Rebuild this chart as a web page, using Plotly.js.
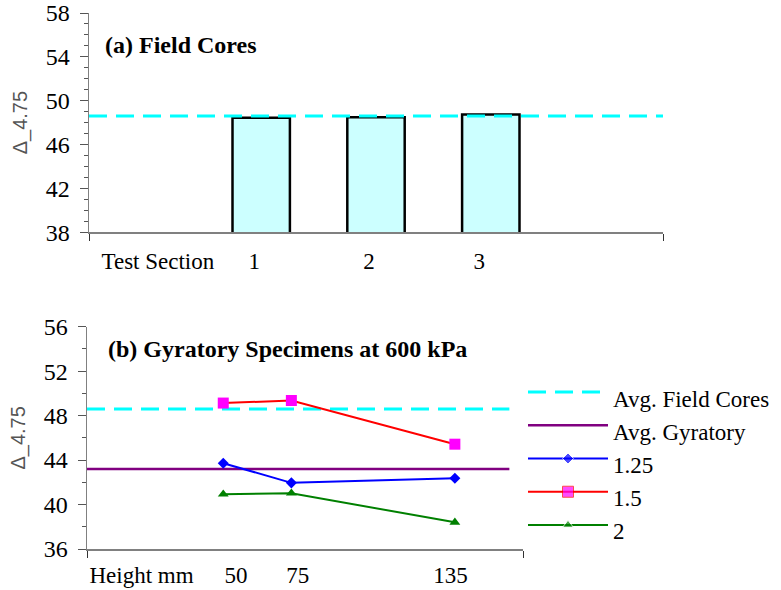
<!DOCTYPE html>
<html><head><meta charset="utf-8">
<script src="https://cdn.plot.ly/plotly-3.0.1.min.js"></script>
<style>html,body{margin:0;padding:0;background:#fff}#chart{width:781px;height:590px}</style>
</head><body><div id="chart"></div>
<script>
// ---- Panel (a): Field cores ----
const sections = [1, 2, 3];
const sectionValues = [48.45, 48.5, 48.75];
const avgFieldCores = 48.6;
const xTickLabelsA = ["Test Section", "1", "2", "3"];

// ---- Panel (b): Gyratory specimens at 600 kPa ----
const heights = [50, 75, 135];
const series125 = [43.72, 41.95, 42.37];
const series15 = [49.13, 49.36, 45.43];
const series2 = [40.93, 41.02, 38.4];
const avgGyratory = 43.2;
const xTickLabelsB = ["Height mm", "50", "75", "135"];
const seriesNames = ["Avg. Field Cores", "Avg. Gyratory", "1.25", "1.5", "2"];

// ---- layout helpers (pixel -> paper) ----
const W = 781, H = 590;
const px = v => v / W;
const py = v => 1 - v / H;

const rangeXA = [-0.5, 4.5];
const rangeXB = [0, 160];
const avgSpanB = [0, 155];

const serif = "Liberation Serif, Times New Roman, serif";
const tf = (s) => ({family: serif, size: s || 23, color: '#000'});
const axisLine = '#808080';

const styles = [
  {mode: 'lines', line: {color: '#00FFFF', width: 3, dash: '18px,9px'}},
  {mode: 'lines', line: {color: '#800080', width: 2.5}},
  {mode: 'lines+markers', line: {color: '#0000FF', width: 2}, marker: {symbol: 'diamond', color: '#0000FF', size: 8.5}},
  {mode: 'lines+markers', line: {color: '#FF0000', width: 2}, marker: {symbol: 'square', color: '#FF00FF', size: 11}},
  {mode: 'lines+markers', line: {color: '#008000', width: 2}, marker: {symbol: 'triangle-up', color: '#008000', size: 9.5}}
];

const traces = [];
// Panel (a)
traces.push({type: 'bar', x: sections, y: sectionValues, width: 0.5, xaxis: 'x', yaxis: 'y',
  marker: {color: '#CCFFFF', line: {color: '#000', width: 2.5}}, name: 'Field Cores', showlegend: false});
traces.push({type: 'scatter', x: rangeXA, y: [avgFieldCores, avgFieldCores], xaxis: 'x', yaxis: 'y',
  name: seriesNames[0], showlegend: false, mode: styles[0].mode, line: styles[0].line});

// Panel (b)
const seriesB = [null, null, series125, series15, series2];
traces.push({type: 'scatter', x: avgSpanB, y: [avgFieldCores, avgFieldCores], xaxis: 'x2', yaxis: 'y2',
  name: seriesNames[0], showlegend: false, mode: styles[0].mode, line: styles[0].line});
traces.push({type: 'scatter', x: avgSpanB, y: [avgGyratory, avgGyratory], xaxis: 'x2', yaxis: 'y2',
  name: seriesNames[1], showlegend: false, mode: styles[1].mode, line: styles[1].line});
for (let i = 2; i < 5; i++) {
  traces.push({type: 'scatter', x: heights, y: seriesB[i], xaxis: 'x2', yaxis: 'y2', name: seriesNames[i],
    showlegend: false, mode: styles[i].mode, line: styles[i].line, marker: styles[i].marker, cliponaxis: false});
}

// Custom legend (hidden axes x3/y3), one row per series name
const annotations = [];
seriesNames.forEach((nm, i) => {
  const t = {type: 'scatter', x: [0, 0.5, 1], y: [i, i, i], xaxis: 'x3', yaxis: 'y3', showlegend: false,
    mode: styles[i].mode, line: styles[i].line, cliponaxis: false, hoverinfo: 'skip'};
  if (styles[i].marker) t.marker = Object.assign({}, styles[i].marker, {size: [0, styles[i].marker.size, 0]});
  traces.push(t);
  annotations.push({xref: 'x3', yref: 'y3', x: 1, y: i, xanchor: 'left', yanchor: 'middle', xshift: 3, yshift: -7,
    showarrow: false, text: nm, font: tf(23)});
});

annotations.push({xref: 'paper', yref: 'paper', x: px(103), y: py(45), xanchor: 'left', yanchor: 'middle',
  showarrow: false, text: '(a) Field Cores', font: {family: serif, size: 24, color: '#000', weight: 'bold'}});
annotations.push({xref: 'paper', yref: 'paper', x: px(106), y: py(349), xanchor: 'left', yanchor: 'middle',
  showarrow: false, text: '(b) Gyratory Specimens at 600 kPa', font: {family: serif, size: 24, color: '#000', weight: 'bold'}});

const yTitle = () => ({text: 'Δ_4.75', font: {family: "Liberation Sans, Arial, sans-serif", size: 20, color: '#555'}, standoff: 12});

const layout = {
  width: W, height: H, margin: {l: 0, r: 0, t: 0, b: 0},
  font: {family: serif, size: 23, color: '#000'},
  paper_bgcolor: '#fff', plot_bgcolor: 'rgba(0,0,0,0)', showlegend: false, hovermode: false,
  xaxis: {domain: [px(89), px(663)], range: rangeXA, anchor: 'y', tickmode: 'array',
    tickvals: [0.1, 0.94, 1.94, 2.9], ticktext: xTickLabelsA, ticks: '', ticklabelstandoff: 8,
    showline: true, linecolor: axisLine, linewidth: 1.5, showgrid: false, zeroline: false, tickfont: tf(23),
    minor: {tickmode: 'array', tickvals: rangeXA, ticks: 'outside', ticklen: 7, tickcolor: '#333', showgrid: false}},
  yaxis: {domain: [py(232.3), py(13)], range: [38, 58], anchor: 'x', tick0: 38, dtick: 4,
    ticks: 'outside', ticklen: 8, tickcolor: '#555', showline: true, linecolor: axisLine, linewidth: 1.5,
    ticklabelstandoff: 5,
    showgrid: false, zeroline: false, tickfont: tf(24), title: yTitle(),
    minor: {dtick: 1, ticks: 'outside', ticklen: 4, tickcolor: '#555', showgrid: false}},
  xaxis2: {domain: [px(87), px(523)], range: rangeXB, anchor: 'y2', tickmode: 'array',
    tickvals: [20, 54.7, 77.3, 133.4], ticktext: xTickLabelsB, ticks: '', ticklabelstandoff: 5,
    showline: true, linecolor: axisLine, linewidth: 1.5, showgrid: false, zeroline: false, tickfont: tf(23),
    minor: {tickmode: 'array', tickvals: rangeXB, ticks: 'outside', ticklen: 7, tickcolor: '#333', showgrid: false}},
  yaxis2: {domain: [py(549), py(326.7)], range: [36, 56], anchor: 'x2', tick0: 36, dtick: 4,
    ticks: 'outside', ticklen: 8, tickcolor: '#555', showline: true, linecolor: axisLine, linewidth: 1.5,
    ticklabelstandoff: 5,
    showgrid: false, zeroline: false, tickfont: tf(24), title: yTitle(),
    minor: {dtick: 2, ticks: 'outside', ticklen: 4, tickcolor: '#555', showgrid: false}},
  xaxis3: {domain: [px(528), px(608)], range: [0, 1], anchor: 'y3', visible: false, fixedrange: true},
  yaxis3: {domain: [py(541.6), py(375.4)], range: [4.5, -0.5], anchor: 'x3', visible: false, fixedrange: true},
  annotations: annotations
};

Plotly.newPlot('chart', traces, layout, {staticPlot: true, displayModeBar: false});
</script>
</body></html>
